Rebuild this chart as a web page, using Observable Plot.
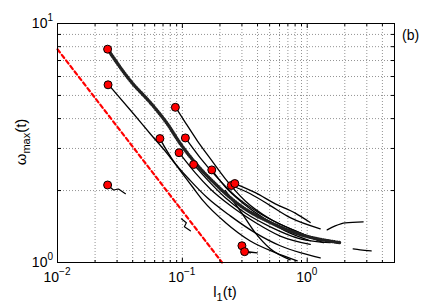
<!DOCTYPE html>
<html><head><meta charset="utf-8">
<script src="https://cdn.jsdelivr.net/npm/d3@7"></script>
<script src="https://cdn.jsdelivr.net/npm/@observablehq/plot@0.6"></script>
<style>body{margin:0;background:#fff}</style>
</head><body><div id="chart"></div>
<script>
// ticks
const xMajor = [0.01, 0.1, 1];
const xMinor = [0.02,0.03,0.04,0.05,0.06,0.07,0.08,0.09,0.2,0.3,0.4,0.5,0.6,0.7,0.8,0.9,2,3,4,5];
const yMajor = [1, 10];
const yMinor = [2,3,4,5,6,7,8,9];
const xTickExp = ["\u22122", "\u22121", "0"];
const yTickExp = ["0", "1"];

// start points (red markers)
const starts = [[0.0252,7.81],[0.0254,5.54],[0.0252,2.11],[0.0879,4.46],[0.0661,3.30],[0.1057,3.32],
  [0.0941,2.88],[0.1231,2.57],[0.172,2.44],[0.2466,2.10],[0.263,2.14],[0.300,1.175],[0.315,1.11]];

// reference scaling line (dashed red)
const refLine = [[0.01,7.8],[0.208,1.0]];

// trajectories
const c1 = [[0.0251,7.84],[0.0384,5.75],[0.0555,4.66],[0.0759,3.80],[0.0964,3.14],[0.127,2.61],[0.184,2.13],[0.291,1.73],[0.506,1.47],[0.879,1.31],[1.84,1.21]];
const c2 = [[0.0256,5.55],[0.0406,4.19],[0.0555,3.45],[0.0759,2.85],[0.0964,2.42],[0.1225,2.05],[0.147,1.81],[0.221,1.47],[0.350,1.23],[0.555,1.10],[0.832,1.016]];
const c3 = [[0.0251,2.11],[0.0281,2.01],[0.0308,2.03],[0.035,1.94]];
const c4 = [[0.0879,4.48],[0.1057,3.85],[0.1318,3.23],[0.1675,2.72],[0.221,2.24],[0.319,1.81],[0.506,1.52],[0.879,1.33],[1.343,1.21]];
const c5 = [[0.0661,3.29],[0.0847,2.66],[0.116,2.20],[0.1585,1.865],[0.242,1.567],[0.384,1.33],[0.608,1.175],[0.879,1.10],[1.271,1.046]];
const c6 = [[0.1057,3.32],[0.139,2.74],[0.184,2.31],[0.2655,1.90],[0.421,1.60],[0.731,1.384],[1.057,1.28]];
const c7 = [[0.0942,2.88],[0.127,2.37],[0.1675,2.03],[0.242,1.73],[0.384,1.47],[0.608,1.29],[1.057,1.19]];
const c8 = [[0.1225,2.58],[0.161,2.20],[0.221,1.865],[0.319,1.61],[0.506,1.41],[0.879,1.256],[1.528,1.21]];
const c9 = [[0.172,2.44],[0.221,2.07],[0.291,1.81],[0.421,1.567],[0.667,1.357],[1.057,1.233]];
const c10 = [[0.2466,2.10],[0.35,1.94],[0.506,1.73],[0.731,1.54],[1.271,1.384]];
const c11 = [[0.263,2.14],[0.384,1.96],[0.555,1.76],[0.802,1.61],[1.057,1.47]];
const c12 = [[0.3006,1.175],[0.331,1.109],[0.398,1.098]];
const c13 = [[0.3133,1.112],[0.35,1.098]];
const c14 = [[0.221,2.00],[0.291,1.645],[0.384,1.33],[0.506,1.141],[0.731,1.026]];
const seg1 = [[1.445,1.37],[1.675,1.424],[2.014,1.466],[2.805,1.48]];
const seg2 = [[2.333,1.141],[2.655,1.13],[3.251,1.119]];
const seg3 = [[0.0982,1.523],[0.1076,1.466],[0.1038,1.41],[0.1159,1.357]];

const solid = [c2,c4,c5,c6,c7,c8,c9,c10,c11,c12,c13,c14,seg1,seg2];
const solidData = solid.flatMap((c,i) => c.map(([x,y]) => ({x, y, id:i})));
const wiggles = [c3, seg3].flatMap((c,i) => c.map(([x,y]) => ({x, y, id:i})));

const P = d => d[0], Q = d => d[1];
const gridStyle = {stroke:"#777", strokeOpacity:1, strokeWidth:0.8, strokeDasharray:"1,2"};
const none = () => "";
// inward ticks: draw each axis's tick shape from the opposite frame edge
const tickX = (data, at, size) => Plot.axisX(data, {anchor: at === "bottom" ? "top" : "bottom", frameAnchor: at, tickSize: size, tickFormat: none, label: null});
const tickY = (data, at, size) => Plot.axisY(data, {anchor: at === "left" ? "right" : "left", frameAnchor: at, tickSize: size, tickFormat: none, label: null});

const chart = Plot.plot({
  width: 436, height: 306,
  marginLeft: 57, marginRight: 42, marginTop: 23, marginBottom: 44,
  x: {type:"log", domain:[0.01, 5]},
  y: {type:"log", domain:[1, 10]},
  style: {fontFamily:"'Liberation Sans', Arial, sans-serif", background:"white"},
  marks: [
    Plot.gridX(xMajor.concat(xMinor), gridStyle),
    Plot.gridY(yMajor.concat(yMinor), gridStyle),
    Plot.line(refLine, {x:P, y:Q, stroke:"red", strokeWidth:2.2, strokeDasharray:"4,3"}),
    Plot.line(solidData, {x:"x", y:"y", z:"id", stroke:"black", strokeWidth:1.3, curve:"monotone-x"}),
    Plot.line(wiggles, {x:"x", y:"y", z:"id", stroke:"black", strokeWidth:1.2}),
    Plot.line(c1, {x:P, y:Q, stroke:"black", strokeWidth:0.6, curve:"monotone-x"}),
    Plot.line(c1, {x:P, y:Q, stroke:"#222", strokeWidth:3.5, strokeDasharray:"0.5,1.8", curve:"monotone-x"}),
    Plot.dot(starts, {x:P, y:Q, r:4, fill:"red", stroke:"black", strokeWidth:1}),
    Plot.frame({stroke:"black", strokeWidth:1}),
    tickX(xMajor, "bottom", 5), tickX(xMinor, "bottom", 3),
    tickX(xMajor, "top", 5), tickX(xMinor, "top", 3),
    tickY(yMajor, "left", 5), tickY(yMinor, "left", 3),
    tickY(yMajor, "right", 5), tickY(yMinor, "right", 3)
  ]
});

const svg = d3.select(chart);
const sx = chart.scale("x"), sy = chart.scale("y");
const font = "'Liberation Sans', Arial, sans-serif";
xMajor.forEach((v, i) => {
  const t = svg.append("text").attr("x", sx.apply(v)).attr("y", 282)
    .attr("text-anchor", "middle").attr("font-family", font).attr("font-size", 14).attr("fill", "black");
  t.append("tspan").text("10");
  t.append("tspan").attr("dy", -7).attr("font-size", 10).text(xTickExp[i]);
});
yMajor.forEach((v, i) => {
  const t = svg.append("text").attr("x", 53).attr("y", sy.apply(v) + 5)
    .attr("text-anchor", "end").attr("font-family", font).attr("font-size", 14).attr("fill", "black");
  t.append("tspan").text("10");
  t.append("tspan").attr("dy", -7).attr("font-size", 10).text(yTickExp[i]);
});
// x label
const xl = svg.append("text").attr("x", 225).attr("y", 297).attr("text-anchor", "middle")
  .attr("font-family", font).attr("font-size", 15).attr("fill", "black");
xl.append("tspan").text("l");
xl.append("tspan").attr("dy", 4).attr("font-size", 11).text("1");
xl.append("tspan").attr("dy", -4).text("(t)");
// y label
const yl = svg.append("text").attr("transform", "translate(26,142) rotate(-90)").attr("text-anchor", "middle")
  .attr("font-family", font).attr("font-size", 15).attr("fill", "black");
yl.append("tspan").text("\u03c9");
yl.append("tspan").attr("dy", 4).attr("font-size", 11).text("max");
yl.append("tspan").attr("dy", -4).text("(t)");
// panel label
svg.append("text").attr("x", 402).attr("y", 40).attr("text-anchor", "start").attr("font-family", font).attr("font-size", 14)
  .attr("fill", "black").text("(b)");

document.getElementById("chart").appendChild(chart);
</script></body></html>
